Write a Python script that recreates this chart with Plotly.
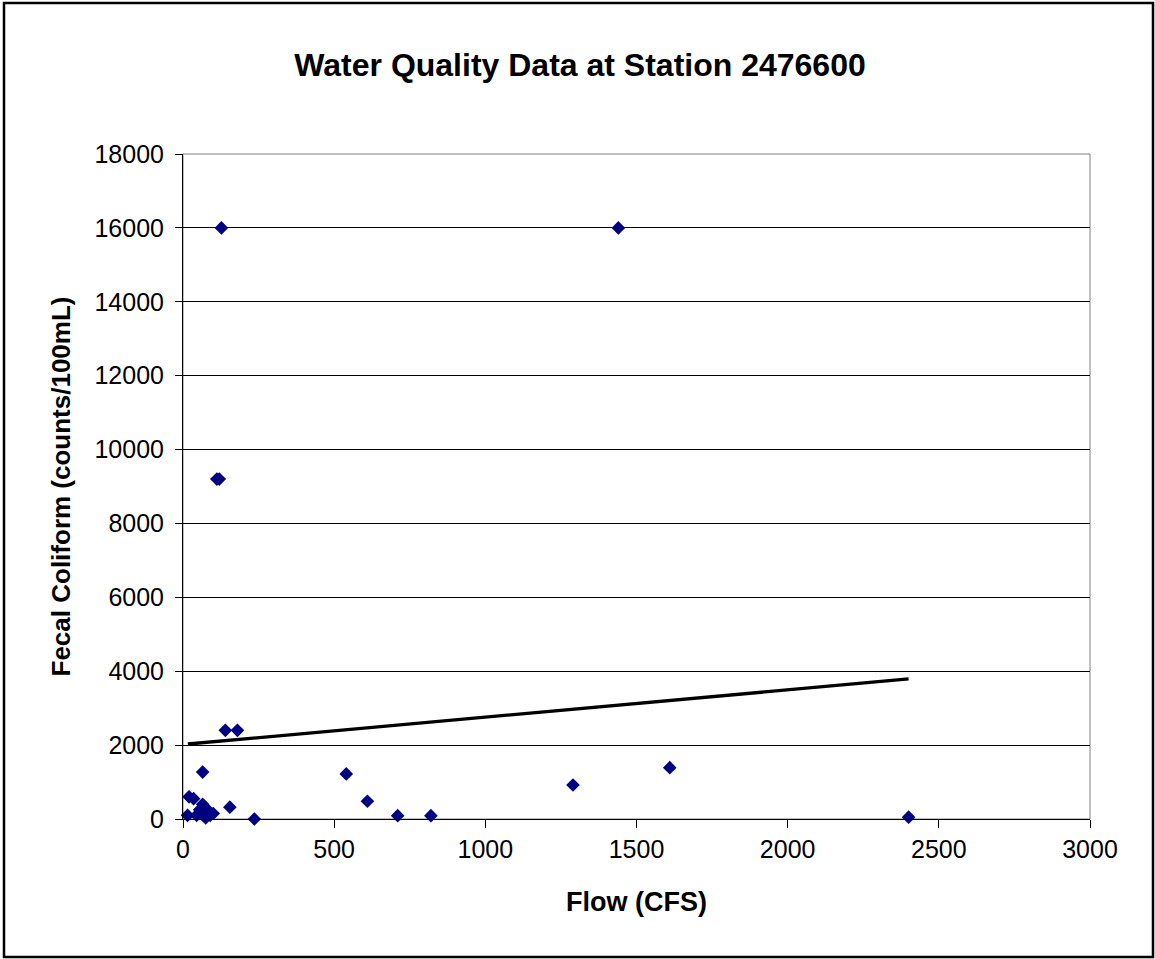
import plotly.graph_objects as go

# Data
flow_cfs = [127, 1440, 112, 120, 140, 180, 65, 540, 1610, 1290, 610, 710, 820, 2400,
            236, 155, 20, 35, 15, 45, 55, 65, 75, 80, 90, 100, 75, 60]
fecal_coliform = [16000, 16000, 9200, 9200, 2400, 2400, 1270, 1220, 1390, 920, 480, 90, 90, 50,
                  0, 320, 600, 550, 100, 100, 250, 400, 300, 200, 100, 150, 30, 150]
trend_x = [16, 2400]
trend_y = [2030, 3790]

x_ticks = [0, 500, 1000, 1500, 2000, 2500, 3000]
y_ticks = [0, 2000, 4000, 6000, 8000, 10000, 12000, 14000, 16000, 18000]

W, H = 1155, 959
ML, MR, MT, MB = 183, 65, 154, 140
PW, PH = W - ML - MR, H - MT - MB

def px_to_paper_x(px):
    return (px - ML) / PW

def py_to_paper_y(py):
    return (H - MB - py) / PH

FONT = "Liberation Sans, Arial, sans-serif"

fig = go.Figure()
fig.add_trace(go.Scatter(
    x=flow_cfs, y=fecal_coliform, mode="markers",
    marker=dict(symbol="diamond", size=10.5, color="#000080", line=dict(width=0)),
    showlegend=False, cliponaxis=False,
))
fig.add_trace(go.Scatter(
    x=trend_x, y=trend_y, mode="lines",
    line=dict(color="black", width=3.3), showlegend=False,
))

fig.update_layout(
    width=W, height=H,
    margin=dict(l=ML, r=MR, t=MT, b=MB),
    paper_bgcolor="white", plot_bgcolor="white",
    font=dict(family=FONT, color="black"),
    title=dict(text="<b>Water Quality Data at Station 2476600</b>",
               x=580 / W, xref="container", y=1 - 65 / H, yref="container",
               xanchor="center", yanchor="middle",
               font=dict(size=32, family=FONT, color="black")),
    xaxis=dict(range=[0, 3000], tickvals=x_ticks, ticktext=[str(v) for v in x_ticks],
               ticks="outside", ticklen=8,
               tickcolor="black", tickfont=dict(size=25, family=FONT),
               showgrid=False, zeroline=False, showline=True, linecolor="black",
               linewidth=1,
               title=dict(text="<b>Flow (CFS)</b>", font=dict(size=27, family=FONT),
                          standoff=30)),
    yaxis=dict(range=[0, 18000], tickvals=y_ticks, ticktext=[str(v) for v in y_ticks],
               ticks="outside", ticklen=7, ticklabelstandoff=6,
               tickcolor="black", tickfont=dict(size=25, family=FONT),
               showgrid=True, gridcolor="black", gridwidth=1,
               zeroline=False, showline=True, linecolor="black", linewidth=1,
               title=dict(text="<b>Fecal Coliform (counts/100mL)</b>",
                          font=dict(size=26, family=FONT), standoff=16)),
    shapes=[
        dict(type="rect", xref="paper", yref="paper", x0=0, x1=1, y0=0, y1=1,
             line=dict(color="#808080", width=1), layer="below"),
        dict(type="rect", xref="paper", yref="paper",
             x0=px_to_paper_x(4), x1=px_to_paper_x(1153),
             y0=py_to_paper_y(957), y1=py_to_paper_y(3),
             line=dict(color="black", width=2.5), layer="above"),
    ],
)

fig.write_html("out.html")
